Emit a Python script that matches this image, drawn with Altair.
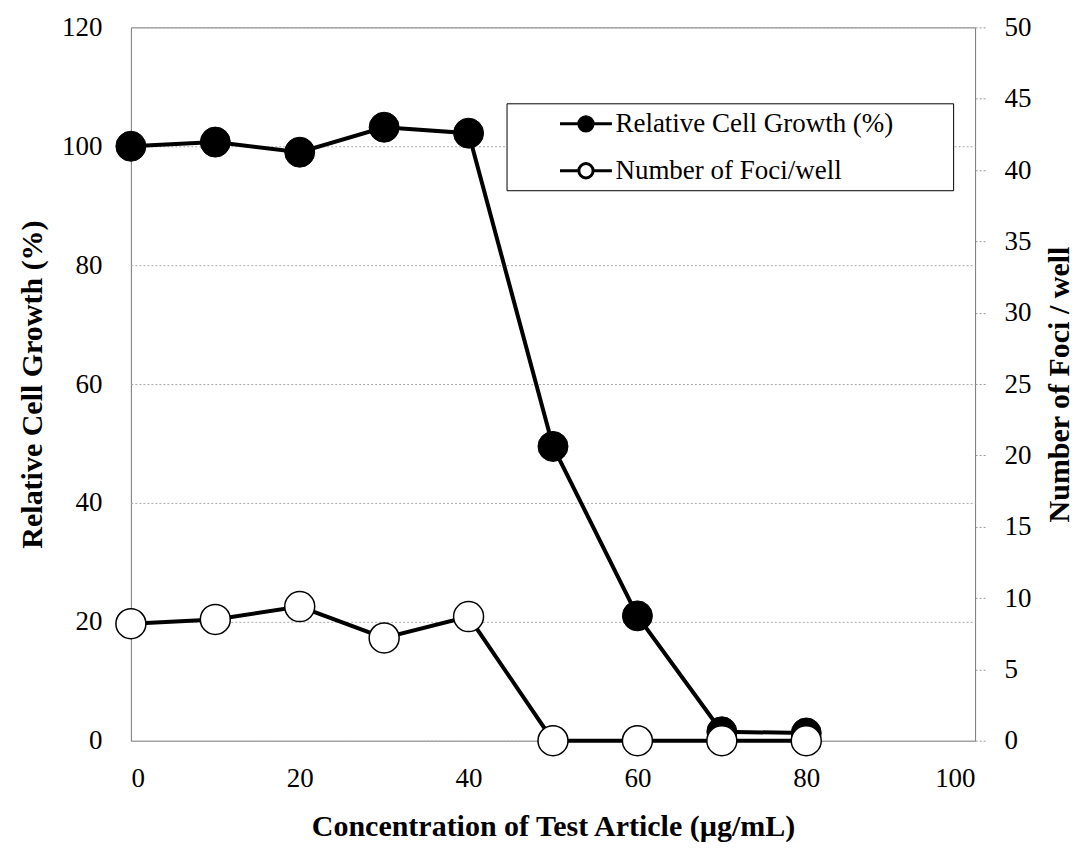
import altair as alt
import pandas as pd

# Data
conc = [0, 10, 20, 30, 40, 50, 60, 70, 80]
growth = [100.0, 100.7, 99.0, 103.2, 102.2, 49.5, 21.0, 1.5, 1.3]
foci = [8.2, 8.5, 9.4, 7.2, 8.7, 0, 0, 0, 0]

series_names = ["Relative Cell Growth (%)", "Number of Foci/well"]
x_ticks = [0, 20, 40, 60, 80, 100]
left_ticks = [0, 20, 40, 60, 80, 100, 120]
right_ticks = [0, 5, 10, 15, 20, 25, 30, 35, 40, 45, 50]

FONT = "Liberation Serif"

gdf = pd.DataFrame({"conc": conc, "value": growth, "series": series_names[0]})
fdf = pd.DataFrame({"conc": conc, "value": foci, "series": series_names[1]})

legend_path = ("M-2,0 L-0.55,0 M0.55,0 L2,0 "
               "M-0.55,0 A0.55,0.55 0 1,0 0.55,0 A0.55,0.55 0 1,0 -0.55,0 Z")

leg = alt.Legend(
    title=None, orient="none", legendX=376, legendY=76,
    symbolType=legend_path, symbolSize=676, symbolStrokeWidth=3,
    symbolOffset=59,
    labelFont=FONT, labelFontSize=27, labelColor="black",
    labelExpr="datum.label + '\u2800  \u2800'",
    strokeColor="black", fillColor="white", padding=6,
    rowPadding=19, labelOffset=15, labelLimit=600,
)
stroke_scale = alt.Scale(domain=series_names, range=["black", "black"])
fill_scale = alt.Scale(domain=series_names, range=["black", "white"])

x_enc = alt.X(
    "conc:Q",
    scale=alt.Scale(domain=[0, 100], nice=False),
    axis=alt.Axis(values=x_ticks, title="Concentration of Test Article (µg/mL)",
                  grid=False, ticks=False, domain=False, labelPadding=25,
                  titlePadding=20),
)

y_left = alt.Y(
    "value:Q",
    scale=alt.Scale(domain=[0, 120], nice=False),
    axis=alt.Axis(orient="left", values=left_ticks, title="Relative Cell Growth (%)",
                  grid=True, ticks=False, domain=False, labelPadding=29,
                  titlePadding=14),
)
y_right = alt.Y(
    "value:Q",
    scale=alt.Scale(domain=[0, 50], nice=False),
    axis=alt.Axis(orient="right", values=right_ticks, title="Number of Foci / well",
                  grid=False, ticks=True, tickSize=10, tickColor="#999",
                  tickDash=[2, 2], domain=False, labelPadding=19,
                  titlePadding=13, titleAngle=270, titleBaseline="top"),
)

g_line = alt.Chart(gdf).mark_line(strokeWidth=4).encode(
    x=x_enc, y=y_left,
    stroke=alt.Stroke("series:N", scale=stroke_scale, legend=leg, sort=series_names),
)
g_pts = alt.Chart(gdf).mark_point(shape="circle", filled=True, size=900, opacity=1,
                                  stroke="black", strokeWidth=1).encode(
    x=x_enc, y=y_left,
    fill=alt.Fill("series:N", scale=fill_scale, legend=leg, sort=series_names),
)
f_line = alt.Chart(fdf).mark_line(strokeWidth=4).encode(
    x=x_enc, y=y_right,
    stroke=alt.Stroke("series:N", scale=stroke_scale, legend=leg, sort=series_names),
)
f_pts = alt.Chart(fdf).mark_point(shape="circle", filled=True, size=900, opacity=1,
                                  stroke="black", strokeWidth=1.5).encode(
    x=x_enc, y=y_right,
    fill=alt.Fill("series:N", scale=fill_scale, legend=leg, sort=series_names),
)

left_layer = alt.layer(g_line, g_pts)
right_layer = alt.layer(f_line, f_pts)

chart = alt.layer(left_layer, right_layer).resolve_scale(
    y="independent"
).properties(
    width=845, height=714, padding={"left": 9, "top": 5, "right": 0, "bottom": 5}
).configure_view(
    stroke="#777", strokeWidth=1
).configure_axis(
    labelFont=FONT, labelFontSize=27, labelColor="black",
    titleFont=FONT, titleFontSize=30, titleFontWeight="bold", titleColor="black",
    gridColor="#aaa", gridDash=[2, 2], gridWidth=1,
)

chart.save("out.html", embed_options={"renderer": "svg", "actions": False})
